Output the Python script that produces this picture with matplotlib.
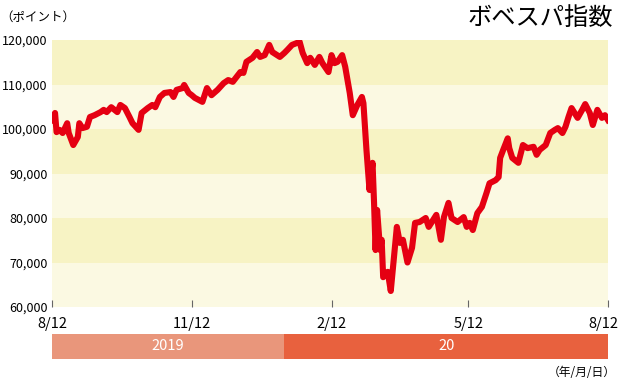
import pandas as pd
import matplotlib.pyplot as plt
import matplotlib.transforms as mtransforms

plt.rcParams['font.family'] = ['Noto Sans CJK JP', 'DejaVu Sans']

# days since 2019-08-12 and index level (thousand points)
days = [0, 2, 3, 5, 7, 10, 11, 14, 17, 18, 20, 23, 25, 28, 32, 34, 36, 39, 43, 45,
        48, 51, 53, 57, 59, 63, 66, 68, 71, 74, 78, 80, 82, 86, 87, 90, 92, 94, 99, 102,
        105, 109, 113, 116, 119, 124, 126, 128, 132, 135, 137, 140, 143, 145, 150, 153, 155, 158, 161, 163,
        165, 168, 170, 173, 176, 178, 182, 184, 186, 188, 191, 193, 196, 198, 201, 204, 205, 207, 209, 211,
        212, 213, 214, 216, 217, 218, 221, 223, 227, 229, 231, 234, 237, 239, 242, 246, 248, 253, 256, 258,
        261, 263, 267, 271, 273, 275, 277, 280, 283, 286, 288, 292, 294, 295, 297, 300, 301, 303, 307, 310,
        313, 317, 319, 321, 325, 328, 331, 333, 336, 338, 340, 342, 346, 349, 351, 354, 356, 359, 362, 364, 366]
values = [102.0, 103.6, 99.3, 99.8, 99.1, 101.3, 99.1, 96.4, 98.2, 101.3, 100.2, 100.5, 102.7, 103.1, 103.8, 104.3, 103.8, 104.9, 103.8, 105.4,
          104.7, 102.7, 101.3, 99.8, 103.6, 104.7, 105.4, 104.9, 107.2, 108.1, 108.3, 107.2, 108.8, 109.2, 109.9, 108.1, 107.6, 107.0, 106.1, 109.2,
          107.6, 108.8, 110.3, 111.0, 110.6, 112.8, 112.6, 115.1, 116.0, 117.3, 116.2, 116.6, 118.9, 117.3, 116.2, 117.1, 117.8, 118.9, 119.3, 119.6,
          117.1, 114.8, 116.0, 114.4, 116.2, 114.8, 112.8, 116.6, 114.8, 115.1, 116.6, 114.0, 108.1, 103.1, 105.4, 107.2, 105.8, 95.3, 86.3, 92.4,
          83.4, 72.8, 81.8, 72.8, 75.1, 66.7, 67.9, 63.6, 78.0, 74.4, 75.1, 70.0, 73.3, 78.9, 79.1, 80.0, 78.0, 80.7, 75.1, 80.2,
          83.4, 80.0, 79.1, 80.2, 78.0, 78.9, 77.3, 81.1, 82.5, 85.6, 87.8, 88.5, 89.2, 93.5, 95.3, 97.9, 95.7, 93.5, 92.4, 96.4,
          95.7, 96.0, 94.2, 95.3, 96.4, 99.1, 99.8, 100.2, 99.1, 100.5, 102.7, 104.7, 102.5, 104.3, 105.6, 103.6, 100.9, 104.3, 102.5, 103.1, 102.0]

yticks = [60000, 70000, 80000, 90000, 100000, 110000, 120000]
xtick_dates = ['2019-08-12', '2019-11-12', '2020-02-12', '2020-05-12', '2020-08-12']
xtick_labels = ['8/12', '11/12', '2/12', '5/12', '8/12']
year_labels = ['2019', '20']
year_edges = ['2019-08-12', '2020-01-12', '2020-08-12']
year_colors = ['#e9967b', '#e8613e']

start = pd.Timestamp('2019-08-12')
dates = start + pd.to_timedelta(days, unit='D')
vals = [v * 1000 for v in values]

fig = plt.figure(figsize=(6.2, 3.83), dpi=100)
ax = fig.add_axes([52 / 620, 1 - 307 / 383, 556 / 620, 267 / 383])

# striped background
for i in range(len(yticks) - 1):
    c = '#f7f3c4' if i % 2 == 1 else '#fbf9e2'
    ax.axhspan(yticks[i], yticks[i + 1], color=c, lw=0, zorder=0)

ax.plot(dates, vals, color='#e50012', lw=4.4, solid_joinstyle='round', zorder=3)

ax.set_xlim(pd.Timestamp(xtick_dates[0]), pd.Timestamp(xtick_dates[-1]))
ax.set_ylim(60000, 120000)
ax.set_yticks(yticks)
ax.set_yticklabels(['{:,}'.format(v) for v in yticks], fontsize=9)
ax.set_xticks([pd.Timestamp(d) for d in xtick_dates])
ax.set_xticklabels([])
ax.tick_params(axis='y', length=0, pad=3)
ax.tick_params(axis='x', direction='in', length=5, color='#666666')
for s in ax.spines.values():
    s.set_visible(False)

# date labels under the axis, the last one nudged inside the figure
for i, (d, lab) in enumerate(zip(xtick_dates, xtick_labels)):
    tr = ax.get_xaxis_transform()
    if i == len(xtick_dates) - 1:
        tr = tr + mtransforms.ScaledTranslation(-5 / 100, 0, fig.dpi_scale_trans)
    ax.text(pd.Timestamp(d), -17 / 267, lab, transform=tr, fontsize=10.5,
            ha='center', va='center')

# year bar
ax2 = fig.add_axes([52 / 620, 1 - 359 / 383, 556 / 620, 25 / 383])
for i in range(len(year_labels)):
    a = pd.Timestamp(year_edges[i])
    b = pd.Timestamp(year_edges[i + 1])
    ax2.axvspan(a, b, color=year_colors[i], lw=0)
    ax2.text(a + (b - a) / 2, 0.5, year_labels[i], color='white', fontsize=10.5,
             ha='center', va='center')
ax2.set_xlim(pd.Timestamp(xtick_dates[0]), pd.Timestamp(xtick_dates[-1]))
ax2.set_ylim(0, 1)
ax2.axis('off')

fig.text(0 / 620, 1 - 17 / 383, '（ポイント）', fontsize=9, va='center', ha='left')
fig.text(613 / 620, 1 - 18 / 383, 'ボベスパ指数', fontsize=17.5, va='center', ha='right')
fig.text(616 / 620, 1 - 372 / 383, '（年/月/日）', fontsize=8.5, va='center', ha='right')

fig.savefig('out.png', dpi=100)
